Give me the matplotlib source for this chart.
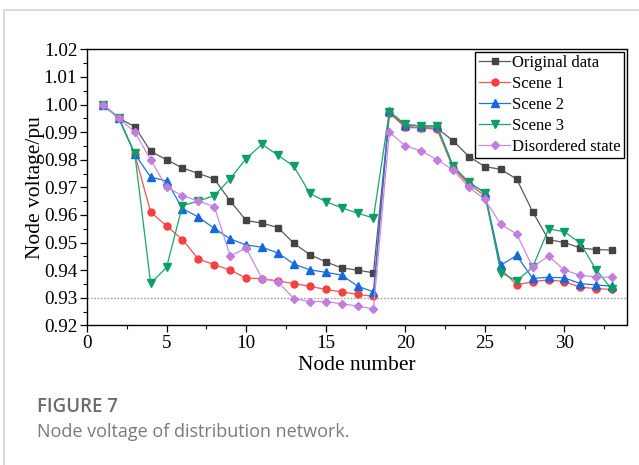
import matplotlib

matplotlib.use("Agg")

import matplotlib.pyplot as plt
import numpy as np
from matplotlib.patches import Rectangle
from matplotlib.ticker import MultipleLocator, FormatStrFormatter

plt.rcParams["font.family"] = ["Liberation Serif", "DejaVu Serif"]

nodes = np.arange(1, 34)

original = [1.000, 0.995, 0.992, 0.983, 0.980, 0.977, 0.975, 0.973, 0.965, 0.958, 0.957,
            0.9554, 0.9497, 0.9456, 0.943, 0.9408, 0.940, 0.939, 0.997, 0.992, 0.9916,
            0.9914, 0.9869, 0.9811, 0.9775, 0.9765, 0.973, 0.9612, 0.951, 0.950, 0.948,
            0.9474, 0.9473]
scene1 = [1.000, 0.995, 0.982, 0.961, 0.956, 0.951, 0.944, 0.942, 0.940, 0.9371, 0.9369,
          0.9361, 0.9351, 0.9341, 0.933, 0.9321, 0.9312, 0.9305, 0.997, 0.9917, 0.9915,
          0.991, 0.977, 0.971, 0.967, 0.9405, 0.9346, 0.9358, 0.9365, 0.9358, 0.9338,
          0.9333, 0.933]
scene2 = [1.000, 0.995, 0.9821, 0.9737, 0.9723, 0.9623, 0.9592, 0.9551, 0.9513, 0.9491,
          0.9483, 0.9462, 0.9422, 0.9401, 0.9392, 0.9382, 0.9342, 0.9321, 0.9975, 0.9926,
          0.9923, 0.9921, 0.9777, 0.9717, 0.968, 0.9418, 0.9453, 0.937, 0.9374, 0.9372,
          0.9351, 0.9346, 0.9342]
scene3 = [1.000, 0.995, 0.9823, 0.9352, 0.941, 0.9634, 0.965, 0.967, 0.9731, 0.9804,
          0.9856, 0.9816, 0.9776, 0.9678, 0.9648, 0.9626, 0.9606, 0.9589, 0.9974, 0.9928,
          0.9922, 0.9922, 0.9777, 0.9718, 0.968, 0.9391, 0.9361, 0.941, 0.9549, 0.9539,
          0.9497, 0.940, 0.933]
disordered = [1.000, 0.995, 0.990, 0.980, 0.970, 0.967, 0.965, 0.963, 0.9451, 0.948,
              0.9369, 0.9357, 0.9297, 0.9286, 0.9286, 0.9278, 0.927, 0.9259, 0.990, 0.985,
              0.9832, 0.980, 0.9763, 0.970, 0.9656, 0.9566, 0.9531, 0.9411, 0.9451, 0.940,
              0.9381, 0.9375, 0.9374]

voltage_limit = 0.93

series = [
    ("Original data", original, "s", 4.6, "#5a5a5a", "#444444"),
    ("Scene 1", scene1, "o", 5.0, "#ff5252", "#f74040"),
    ("Scene 2", scene2, "^", 5.6, "#1f74e0", "#1569d8"),
    ("Scene 3", scene3, "v", 5.6, "#16a870", "#0f9e62"),
    ("Disordered state", disordered, "D", 4.2, "#c98be6", "#c27ddf"),
]

fig = plt.figure(figsize=(6.39, 4.65), dpi=100)
fig.patch.set_facecolor("white")

# light card outline behind the figure
fig.add_artist(Rectangle((4 / 639, -0.1), 1.2, 1.1 - 10 / 465, transform=fig.transFigure,
                         fill=False, edgecolor="#d4d4d4", linewidth=1.2))

ax = fig.add_axes([87 / 639, 1 - 325.3 / 465, (626.5 - 87) / 639, (325.3 - 49.3) / 465])

ax.axhline(voltage_limit, color="#a0a0a0", linestyle=(0, (1.2, 1.2)), linewidth=1.0, zorder=1)

for label, values, marker, ms, lcolor, mcolor in series:
    ax.plot(nodes, values, color=lcolor, linewidth=0.9, marker=marker, markersize=ms,
            markerfacecolor=mcolor, markeredgecolor=mcolor, label=label, zorder=3)

ax.set_xlim(0, 33.9)
ax.set_ylim(0.92, 1.02)
ax.xaxis.set_major_locator(MultipleLocator(5))
ax.xaxis.set_minor_locator(MultipleLocator(2.5))
ax.yaxis.set_major_locator(MultipleLocator(0.01))
ax.yaxis.set_minor_locator(MultipleLocator(0.005))
ax.yaxis.set_major_formatter(FormatStrFormatter("%.2f"))
ax.tick_params(which="both", direction="out", top=False, right=False, labelsize=13.8,
               pad=2, color="black")
ax.tick_params(which="major", length=5, width=0.9)
ax.tick_params(which="minor", length=3, width=0.8)
for spine in ax.spines.values():
    spine.set_linewidth(1.0)

ax.set_xlabel("Node number", fontsize=15.5, labelpad=3)
ax.set_ylabel("Node voltage/pu", fontsize=15.5, labelpad=-1)

leg = ax.legend(loc="upper right", fontsize=12, frameon=True, fancybox=False,
                edgecolor="black", framealpha=1, borderaxespad=0.15, borderpad=0.2,
                handlelength=1.9, handletextpad=0.1, labelspacing=0.3)
leg.get_frame().set_linewidth(1.0)

fig.text(37 / 639, 1 - 407 / 465, "FIGURE 7", fontsize=13.4, fontweight="semibold",
         color="#6c6c6c", family=["Open Sans", "DejaVu Sans"], va="center", ha="left")
fig.text(37 / 639, 1 - 432 / 465, "Node voltage of distribution network.", fontsize=13,
         color="#7a7a7a", family=["Open Sans", "DejaVu Sans"], va="center", ha="left")

fig.savefig("out.png", dpi=100, facecolor="white")
